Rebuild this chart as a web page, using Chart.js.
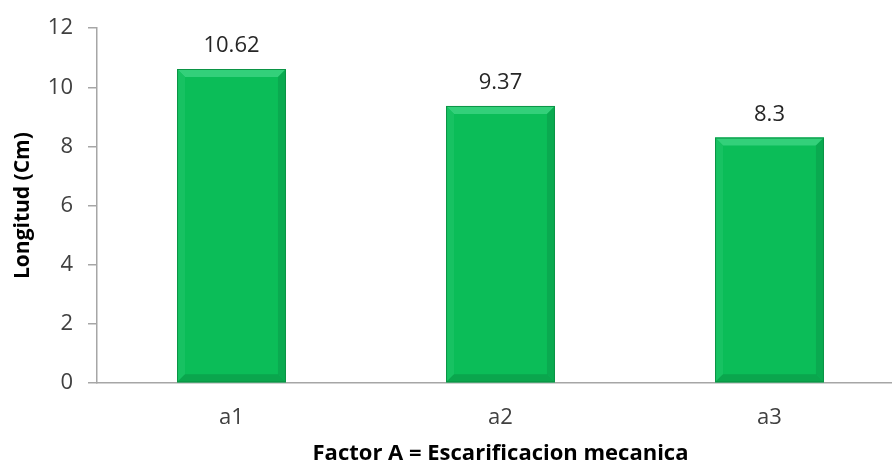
<!DOCTYPE html>
<html>
<head>
<meta charset="utf-8">
<script src="https://cdn.jsdelivr.net/npm/chart.js@4.4.1/dist/chart.umd.min.js"></script>
<style>
  html, body { margin: 0; padding: 0; background: #fff; overflow: hidden; }
  canvas { display: block; }
</style>
</head>
<body>
<canvas id="chart" width="904" height="467"></canvas>
<script>
const categories = ['a1', 'a2', 'a3'];
const longitud = [10.62, 9.37, 8.3];
const yTicks = [0, 2, 4, 6, 8, 10, 12];

const FONT = "'Open Sans', 'DejaVu Sans', sans-serif";

// excel style bevel on each bar
const bevel = {
    id: 'bevel',
    afterDatasetsDraw(chart) {
        const ctx = chart.ctx;
        chart.getDatasetMeta(0).data.forEach(bar => {
            const p = bar.getProps(['x', 'y', 'base', 'width'], true);
            const l = p.x - p.width / 2, r = p.x + p.width / 2, t = p.y, bo = p.base, b = 8;
            const poly = (pts, c) => {
                ctx.beginPath(); ctx.moveTo(pts[0][0], pts[0][1]);
                pts.slice(1).forEach(q => ctx.lineTo(q[0], q[1]));
                ctx.closePath(); ctx.fillStyle = c; ctx.fill();
            };
            ctx.save();
            poly([[l, t], [r, t], [r - b, t + b], [l + b, t + b]], '#33d07a');
            poly([[l, t], [l + b, t + b], [l + b, bo - b], [l, bo]], '#17c262');
            poly([[r, t], [r - b, t + b], [r - b, bo - b], [r, bo]], '#0aaa50');
            poly([[l, bo], [l + b, bo - b], [r - b, bo - b], [r, bo]], '#0aa64d');
            ctx.strokeStyle = '#0b9445'; ctx.lineWidth = 1;
            ctx.strokeRect(l + 0.5, t + 0.5, p.width - 1, bo - t - 1);
            ctx.restore();
        });
    }
};

const valueLabels = {
    id: 'valueLabels',
    afterDatasetsDraw(chart) {
        const ctx = chart.ctx;
        ctx.save();
        ctx.font = '22px ' + FONT;
        ctx.fillStyle = '#262626';
        ctx.textAlign = 'center';
        ctx.textBaseline = 'alphabetic';
        chart.getDatasetMeta(0).data.forEach((bar, i) => {
            ctx.fillText(String(longitud[i]), bar.x, bar.y - 17);
        });
        ctx.restore();
    }
};

new Chart(document.getElementById('chart'), {
    type: 'bar',
    data: {
        labels: categories,
        datasets: [{
            data: longitud,
            backgroundColor: '#0bbd58',
            borderWidth: 0,
            barPercentage: 0.405,
            categoryPercentage: 1
        }]
    },
    options: {
        responsive: false,
        animation: false,
        layout: { padding: { top: 23, right: 0, left: 0, bottom: 0 } },
        plugins: { legend: { display: false }, tooltip: { enabled: false } },
        scales: {
            x: {
                grid: { display: false },
                border: { color: '#a6a6a6', width: 1.5 },
                ticks: { color: '#404040', font: { family: FONT, size: 22 }, padding: 14 },
                title: {
                    display: true,
                    text: 'Factor A = Escarificacion mecanica',
                    color: '#000',
                    font: { family: FONT, size: 22, weight: 'bold' },
                    padding: { top: 0, bottom: 0 }
                },
                afterFit: s => { s.height = 84; }
            },
            y: {
                min: 0,
                max: 12,
                afterBuildTicks: s => { s.ticks = yTicks.map(v => ({ value: v })); },
                grid: { drawOnChartArea: false, tickLength: 9, color: '#a6a6a6', lineWidth: 1.5 },
                border: { color: '#a6a6a6', width: 1.5 },
                ticks: { color: '#404040', font: { family: FONT, size: 22 }, padding: 15 },
                title: {
                    display: true,
                    text: 'Longitud (Cm)',
                    color: '#000',
                    font: { family: FONT, size: 21, weight: 'bold' },
                    padding: { top: 10, bottom: 0 }
                },
                afterFit: s => { s.width = 97; }
            }
        }
    },
    plugins: [bevel, valueLabels]
});
</script>
</body>
</html>
